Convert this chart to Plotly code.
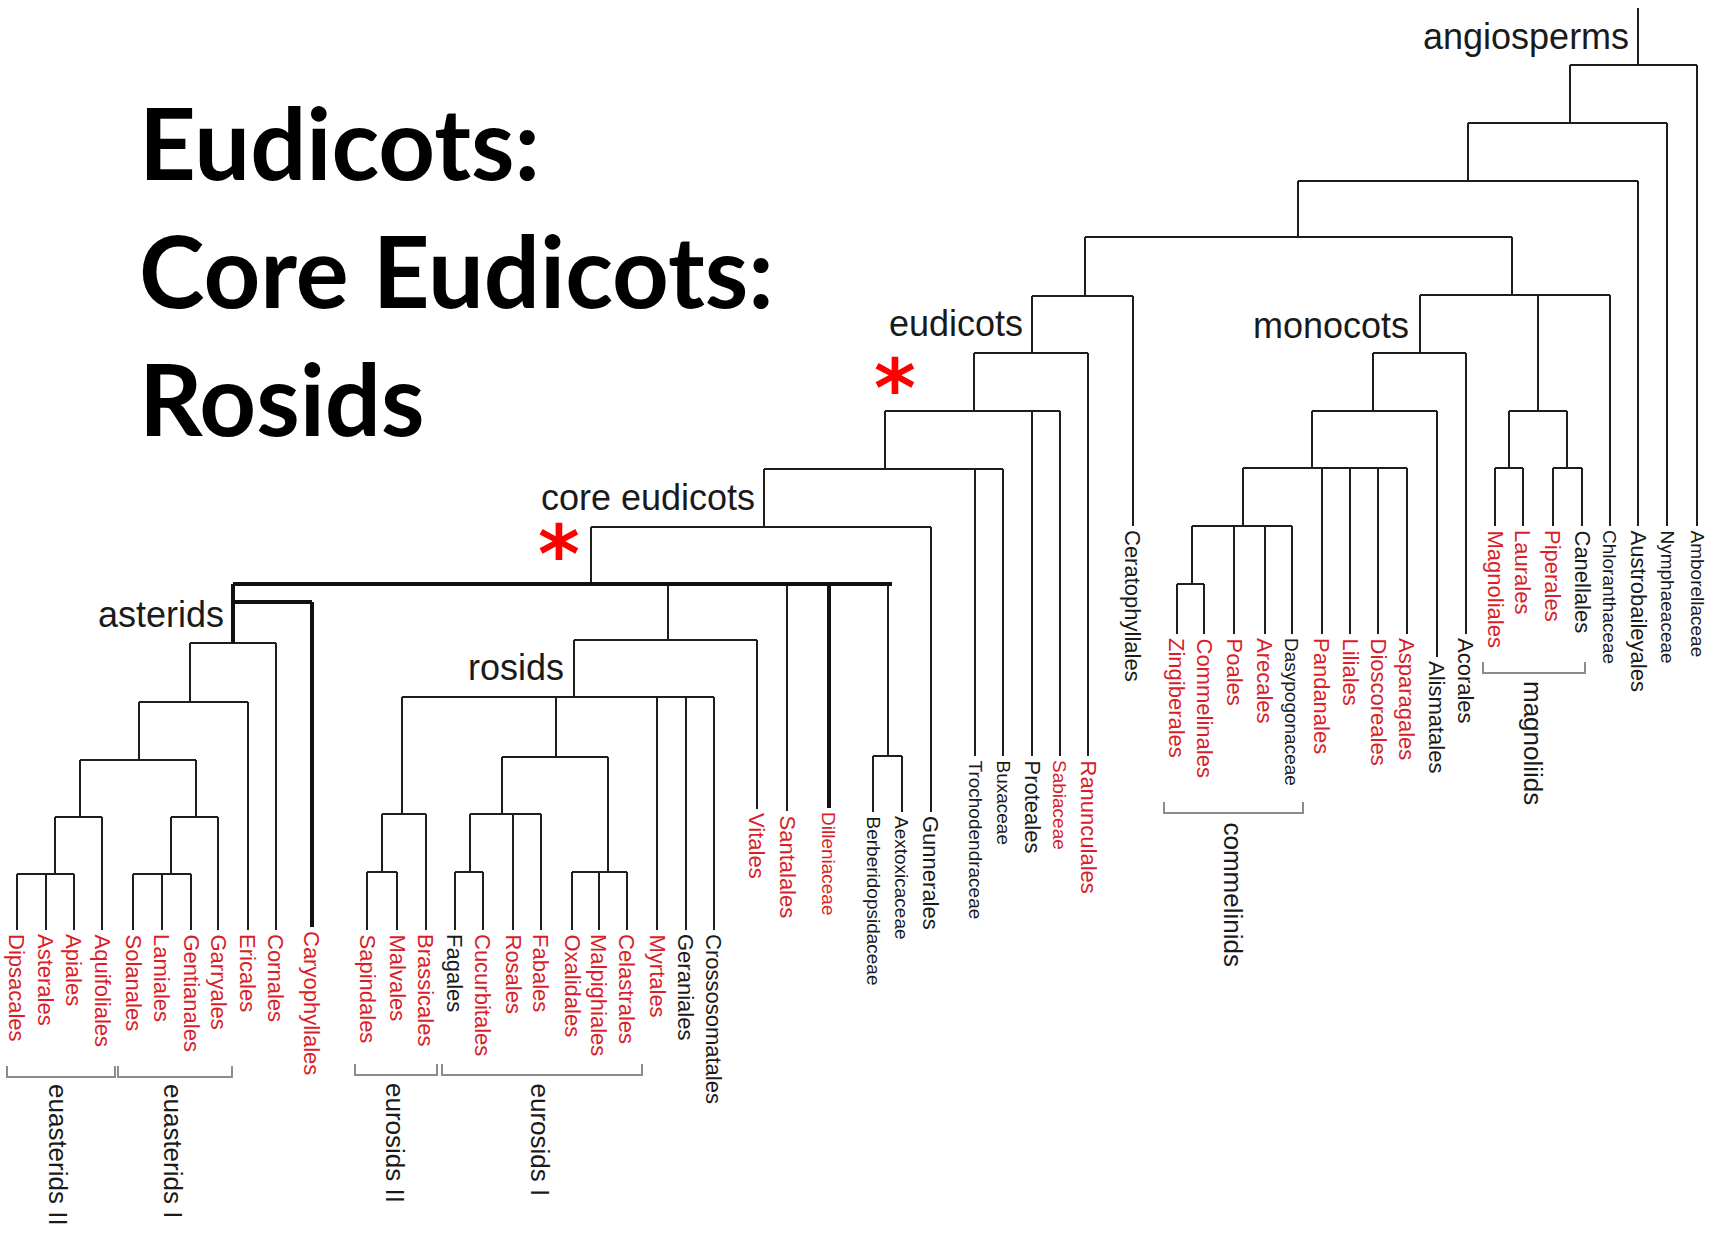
import plotly.graph_objects as go

W, H = 1723, 1234

# ---------------- data ----------------
# leaves: name, x position, y where the branch ends, red label?
leaf_names = ["Dipsacales", "Asterales", "Apiales", "Aquifoliales", "Solanales", "Lamiales",
              "Gentianales", "Garryales", "Ericales", "Cornales", "Caryophyllales",
              "Sapindales", "Malvales", "Brassicales", "Fagales", "Cucurbitales", "Rosales",
              "Fabales", "Oxalidales", "Malpighiales", "Celastrales", "Myrtales", "Geraniales",
              "Crossosomatales", "Vitales", "Santalales", "Dilleniaceae", "Berberidopsidaceae",
              "Aextoxicaceae", "Gunnerales", "Trochodendraceae", "Buxaceae", "Proteales",
              "Sabiaceae", "Ranunculales", "Ceratophyllales",
              "Zingiberales", "Commelinales", "Poales", "Arecales", "Dasypogonaceae",
              "Pandanales", "Liliales", "Dioscoreales", "Asparagales", "Alismatales", "Acorales",
              "Magnoliales", "Laurales", "Piperales", "Canellales", "Chloranthaceae",
              "Austrobaileyales", "Nymphaeaceae", "Amborellaceae"]
leaf_x = [17, 46, 74, 102, 133, 162, 191, 218, 248, 276, 312,
          367, 397, 426, 455, 483, 513, 541, 572, 599, 627, 657, 686, 714,
          757, 787, 829, 873, 902, 931, 975, 1003, 1032, 1060, 1088, 1133,
          1177, 1204, 1234, 1265, 1292, 1322, 1350, 1378, 1407, 1437, 1466,
          1495, 1523, 1553, 1582, 1610, 1638, 1667, 1697]
leaf_tip = [930, 930, 930, 930, 930, 930, 930, 930, 930, 930, 927,
            930, 930, 930, 930, 930, 930, 930, 930, 930, 930, 930, 930, 930,
            809, 811, 808, 812, 812, 812, 756, 756, 756, 756, 756, 526,
            634, 634, 634, 634, 634, 634, 634, 634, 634, 657, 634,
            526, 526, 526, 526, 526, 526, 526, 526]
leaf_red = [1, 1, 1, 1, 1, 1, 1, 1, 1, 1, 1,
            1, 1, 1, 0, 1, 1, 1, 1, 1, 1, 1, 0, 0,
            1, 1, 1, 0, 0, 0, 0, 0, 0, 1, 1, 0,
            1, 1, 1, 1, 0, 1, 1, 1, 1, 0, 0,
            1, 1, 1, 0, 0, 0, 0, 0]

# internal nodes: id, height (y), stem x, children
node_ids = ["ast_a", "ast_b", "ast_c", "ast_d", "ast_e", "ast_f", "ast_g", "cary_join",
            "ros_a", "ros_b", "ros_c", "ros_d", "ros_e", "ros_f", "rosids", "ros_vit", "berb",
            "core_poly", "core", "n469", "n411", "eud", "n296",
            "mon_a", "mon_b", "mon_c", "mon_d", "mon", "mag_a", "mag_b", "mag",
            "n295", "n237", "n181", "n123", "root"]
node_y = [874, 817, 874, 817, 760, 702, 643, 602,
          872, 814, 872, 814, 872, 757, 697, 640, 756,
          584, 527, 469, 411, 353, 296,
          584, 526, 468, 411, 353, 468, 468, 411,
          295, 237, 181, 123, 65]
node_x = [55, 80, 171, 196, 139, 190, 233, 233,
          382, 402, 470, 502, 608, 556, 574, 668, 888,
          591, 764, 885, 974, 1032, 1085,
          1192, 1243, 1312, 1373, 1420, 1509, 1567, 1538,
          1512, 1298, 1468, 1570, 1638]
node_children = [
    ["Dipsacales", "Asterales", "Apiales"], ["ast_a", "Aquifoliales"],
    ["Solanales", "Lamiales", "Gentianales"], ["ast_c", "Garryales"],
    ["ast_b", "ast_d"], ["ast_e", "Ericales"], ["ast_f", "Cornales"],
    ["ast_g", "Caryophyllales"],
    ["Sapindales", "Malvales"], ["ros_a", "Brassicales"], ["Fagales", "Cucurbitales"],
    ["ros_c", "Rosales", "Fabales"], ["Oxalidales", "Malpighiales", "Celastrales"],
    ["ros_d", "ros_e"], ["ros_b", "ros_f", "Myrtales", "Geraniales", "Crossosomatales"],
    ["rosids", "Vitales"], ["Berberidopsidaceae", "Aextoxicaceae"],
    ["cary_join", "ros_vit", "Santalales", "Dilleniaceae", "berb"],
    ["core_poly", "Gunnerales"], ["core", "Trochodendraceae", "Buxaceae"],
    ["n469", "Proteales", "Sabiaceae"], ["n411", "Ranunculales"], ["eud", "Ceratophyllales"],
    ["Zingiberales", "Commelinales"], ["mon_a", "Poales", "Arecales", "Dasypogonaceae"],
    ["mon_b", "Pandanales", "Liliales", "Dioscoreales", "Asparagales"],
    ["mon_c", "Alismatales"], ["mon_d", "Acorales"],
    ["Magnoliales", "Laurales"], ["Piperales", "Canellales"], ["mag_a", "mag_b"],
    ["mon", "mag", "Chloranthaceae"], ["n296", "n295"], ["n237", "Austrobaileyales"],
    ["n181", "Nymphaeaceae"], ["n123", "Amborellaceae"]]
root_stem_top = 8

# hand-drawn (thick) parts of the tree
thick_nodes = ["core_poly", "cary_join"]
thick_edges = [("core_poly", "cary_join"), ("core_poly", "Dilleniaceae"),
               ("cary_join", "ast_g"), ("cary_join", "Caryophyllales")]
thick_overhang = 4  # the hand-drawn bar runs a little past its last branch

# clade labels: text, right x, centre y
clade_text = ["angiosperms", "eudicots", "monocots", "core eudicots", "asterids", "rosids"]
clade_x = [1631, 1025, 1411, 757, 226, 566]
clade_y = [36, 323, 325, 497, 614, 667]

# brackets: label, x0, x1, y, label x, label top
br_text = ["euasterids II", "euasterids I", "eurosids II", "eurosids I", "commelinids", "magnoliids"]
br_x0 = [7, 118, 355, 442, 1164, 1483]
br_x1 = [115, 232, 437, 642, 1303, 1585]
br_y = [1077, 1077, 1075, 1075, 813, 673]
br_lx = [58, 173, 395, 540, 1233, 1533]
br_ly = [1082, 1082, 1081, 1081, 820, 679]

title_lines = ["Eudicots:", "Core Eudicots:", "Rosids"]
title_baseline = [179, 307, 435]

star_x = [895, 559]
star_y = [375, 541]

# ---------------- build geometry ----------------
pos = {}
for n, x, t in zip(leaf_names, leaf_x, leaf_tip):
    pos[n] = (x, t)
for n, x, y in zip(node_ids, node_x, node_y):
    pos[n] = (x, y)

thin_x, thin_y, thk_x, thk_y = [], [], [], []


def add(seg, thick):
    (xa, ya), (xb, yb) = seg
    if thick:
        thk_x.extend([xa, xb, None]); thk_y.extend([ya, yb, None])
    else:
        thin_x.extend([xa, xb, None]); thin_y.extend([ya, yb, None])


for nid, ny, kids in zip(node_ids, node_y, node_children):
    xs = [pos[k][0] for k in kids]
    if nid in thick_nodes:
        add(((min(xs), ny), (max(xs) + (thick_overhang if nid == "core_poly" else 0), ny)), True)
    else:
        add(((min(xs), ny), (max(xs), ny)), False)
    for k in kids:
        kx, ky = pos[k]
        add(((kx, ny), (kx, ky)), (nid, k) in thick_edges)
rx, ry = pos["root"]
add(((rx, ry), (rx, root_stem_top)), False)

bx, by = [], []
for x0, x1, y in zip(br_x0, br_x1, br_y):
    bx.extend([x0, x0, x1, x1, None])
    by.extend([y - 11, y, y, y - 11, None])

fig = go.Figure()
fig.add_trace(go.Scatter(x=thin_x, y=thin_y, mode="lines",
                         line=dict(color="#1e1e1e", width=2), hoverinfo="skip"))
fig.add_trace(go.Scatter(x=thk_x, y=thk_y, mode="lines",
                         line=dict(color="#111111", width=4), hoverinfo="skip"))
fig.add_trace(go.Scatter(x=bx, y=by, mode="lines",
                         line=dict(color="#8c8c8c", width=2), hoverinfo="skip"))

ann = []
LBL = "Arial, 'Liberation Sans', Helvetica, sans-serif"
for n, x, t, r in zip(leaf_names, leaf_x, leaf_tip, leaf_red):
    ann.append(dict(x=x, y=t + 2, text=n, textangle=90, xanchor="center", yanchor="top",
                    showarrow=False,
                    font=dict(family=LBL, size=19 if n.endswith("aceae") else 22,
                              color="#d81e2a" if r else "#1a1a1a")))
for s, x, y in zip(clade_text, clade_x, clade_y):
    ann.append(dict(x=x, y=y, text=s, xanchor="right", yanchor="middle", showarrow=False,
                    font=dict(family=LBL, size=36, color="#1a1a1a")))
for s, x, y in zip(br_text, br_lx, br_ly):
    ann.append(dict(x=x, y=y, text=s, textangle=90, xanchor="center", yanchor="top",
                    showarrow=False, font=dict(family=LBL, size=26, color="#1a1a1a")))
TS = 99
for s, b in zip(title_lines, title_baseline):
    ann.append(dict(x=137, y=b - TS, text=s, xanchor="left", yanchor="top", showarrow=False,
                    font=dict(family="Lato, 'Open Sans', sans-serif", size=TS,
                              color="#000000", weight="bold")))
for x, y in zip(star_x, star_y):
    ann.append(dict(x=x, y=y - 35, text="*", xanchor="center", yanchor="top", showarrow=False,
                    font=dict(family="'DejaVu Sans', sans-serif", size=80, color="#ff0000",
                              weight="bold")))

fig.update_layout(
    width=W, height=H, margin=dict(l=0, r=0, t=0, b=0),
    paper_bgcolor="white", plot_bgcolor="white", showlegend=False,
    xaxis=dict(range=[0, W], visible=False, fixedrange=True),
    yaxis=dict(range=[H, 0], visible=False, fixedrange=True),
    annotations=ann,
)
fig.write_html("out.html", config={"displayModeBar": False},
               post_script="document.body.style.margin='0px';document.body.style.overflow='hidden';")
